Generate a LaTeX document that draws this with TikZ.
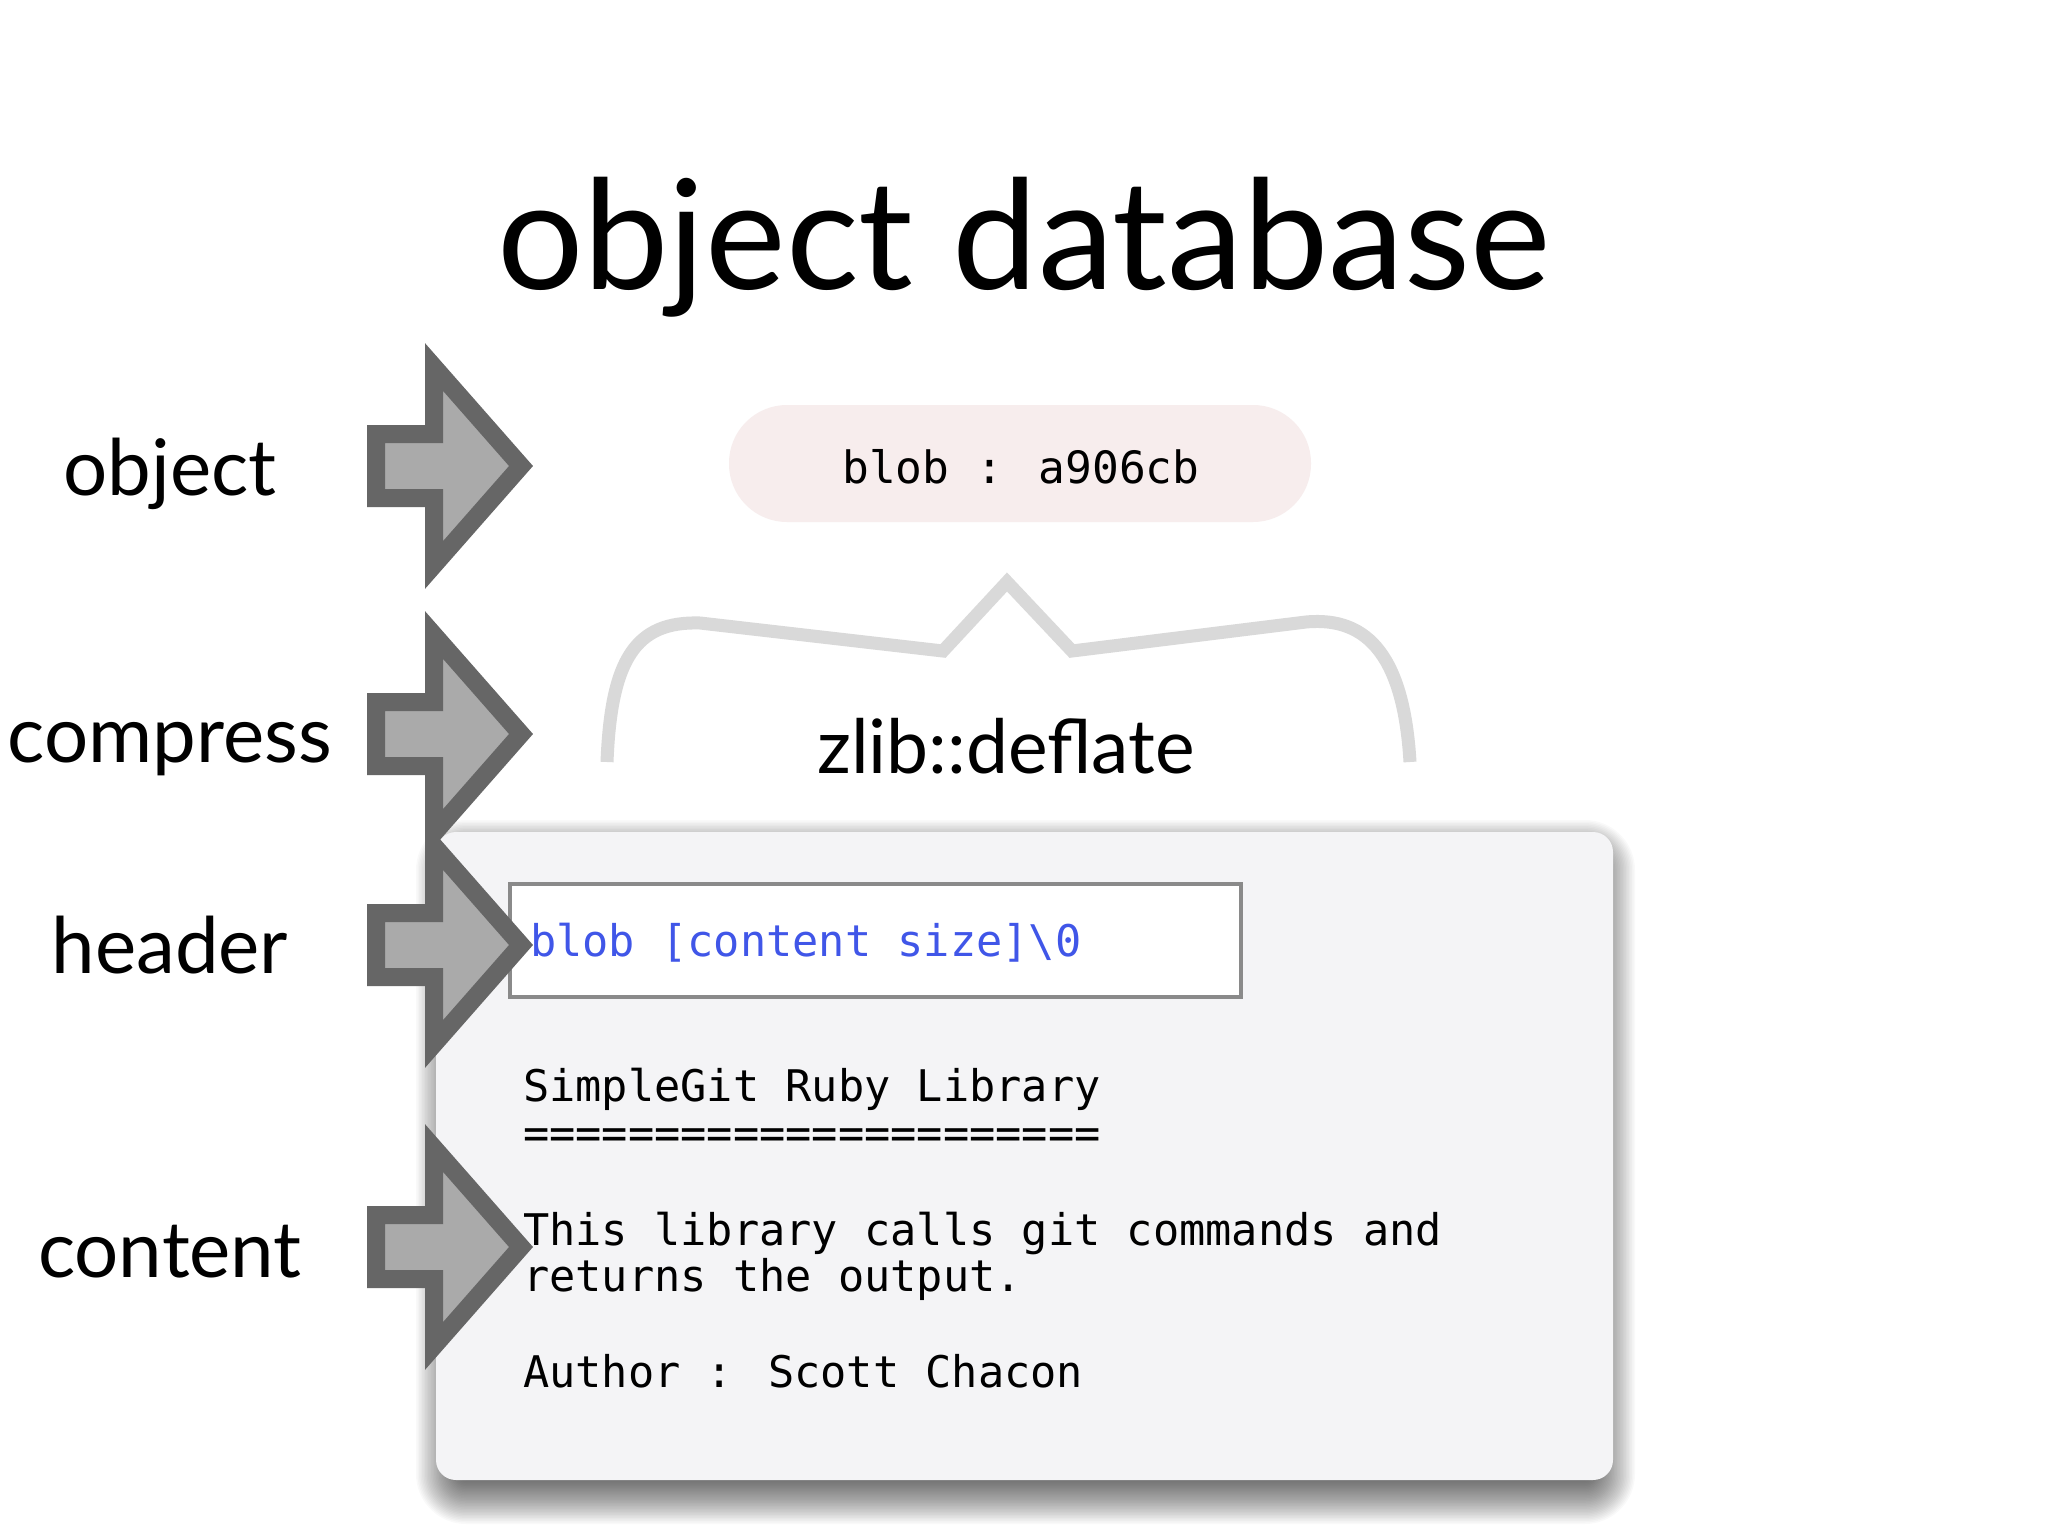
\documentclass[tikz,border=0pt]{standalone}
\usepackage{fontspec}
\setmainfont{Lato}
\newfontfamily\monofont{DejaVu Sans Mono}
\definecolor{arrowfill}{HTML}{AAAAAA}
\definecolor{arrowline}{HTML}{666666}
\definecolor{bracegray}{HTML}{D9D9D9}
\definecolor{pillfill}{RGB}{247,237,237}
\definecolor{boxfill}{RGB}{244,244,246}
\definecolor{headerline}{HTML}{8A8A8A}
\definecolor{codeblue}{RGB}{64,86,232}
\tikzset{
  bigarrow/.style={fill=arrowfill, draw=arrowline, line width=18pt, miter limit=10},
  sidelabel/.style={anchor=base, inner sep=0pt, font=\fontsize{78}{90}\selectfont},
  codeline/.style={anchor=base west, inner sep=0pt, font=\monofont\fontsize{43.6}{47}\selectfont},
}
\begin{document}
\begin{tikzpicture}[x=1pt,y=-1pt]
\useasboundingbox (0,0) rectangle (2048,1536);
\fill[white] (0,0) rectangle (2048,1536);

% title
\node[anchor=base, inner sep=0pt, font=\fontsize{152.5}{170}\selectfont] (title) at (1024,289) {object database};

% side labels
\node[sidelabel] (lobject) at (170,495) {object};
\node[sidelabel] (lcompress) at (170,762) {compress};
\node[sidelabel] (lheader) at (170,973) {header};
\node[sidelabel] (lcontent) at (170,1277) {content};

% pill
\fill[pillfill, rounded corners=58pt] (729,405) rectangle (1311,522);
\node[anchor=base, inner sep=0pt, font=\monofont\fontsize{44.5}{47}\selectfont] (pill) at (1021,483) {blob : a906cb};

% brace
\draw[bracegray, line width=13pt, line join=miter]
  (607,762) .. controls (611,660) and (635,621) .. (700,623)
  -- (943,651) -- (1007,582) -- (1072,651) -- (1306,622)
  .. controls (1370,616) and (1404,660) .. (1410,762);
\node[anchor=base, inner sep=0pt, font=\fontsize{75}{90}\selectfont] (zlib) at (1006,773) {zlib::deflate};

% content box shadow (layered blur)
\foreach \i in {0,...,33} {
  \pgfmathsetmacro\r{30-50*\i/33}
  \pgfmathsetmacro\rc{max(20+\r,1)}
  \fill[black, opacity=0.025, rounded corners=\rc pt] ({446-\r},{850-\r}) rectangle ({1605+\r},{1494+\r});
}
% content box
\fill[boxfill, rounded corners=20pt] (436,832) rectangle (1613,1480);

% header box
\draw[headerline, line width=3.5pt, fill=white] (510,884) rectangle (1241,997);

% arrows
\foreach \c in {466,734,945,1247} {
  \draw[bigarrow] (376,{\c-32}) -- (434,{\c-32}) -- (434,{\c-99}) -- (521,\c)
     -- (434,{\c+99}) -- (434,{\c+32}) -- (376,{\c+32}) -- cycle;
}

% header text
\node[codeline, text=codeblue] (hdr) at (530,956) {blob [content size]\textbackslash 0};

% content text
\node[codeline] (c1) at (523,1101) {SimpleGit Ruby Library};
\node[codeline] (c2) at (523,1148) {======================};
\node[codeline] (c3) at (523,1245) {This library calls git commands and};
\node[codeline] (c4) at (523,1291) {returns the output.};
\node[codeline] (c5) at (523,1387) {Author : Scott Chacon};
\end{tikzpicture}
\end{document}
